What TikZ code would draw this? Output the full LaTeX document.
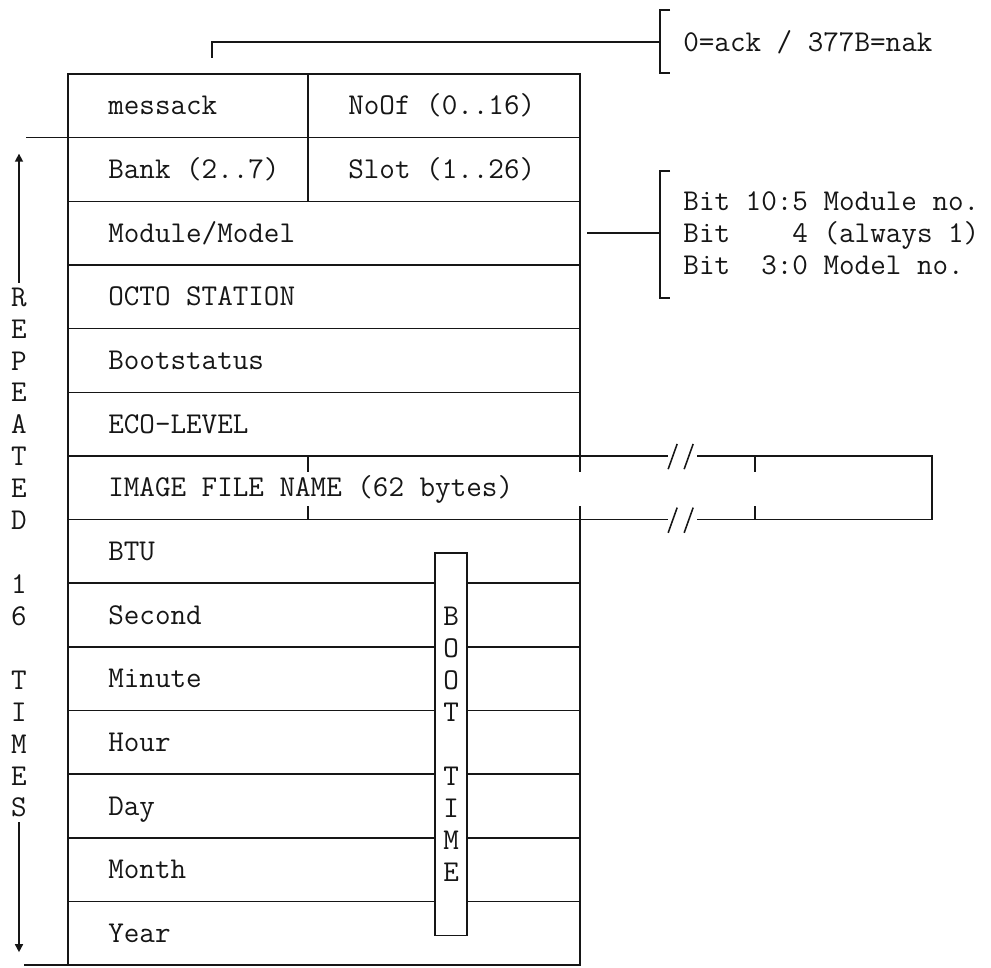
\documentclass[tikz,border=0pt]{standalone}
\usetikzlibrary{arrows.meta,positioning,calc}
\definecolor{ink}{HTML}{161616}
\newcommand{\twsize}{\ttfamily\fontsize{21.5}{22.7}\selectfont}
\tikzset{
  cell/.style={draw=ink,line width=1.1pt,anchor=north west,minimum width=#1,minimum height=1.591cm,
    inner sep=0pt,outer sep=0pt},
  tag/.style={anchor=west,xshift=1cm,inner sep=0pt,text height=13pt,text depth=0pt},
  note/.style={anchor=west,inner sep=0pt,align=left},
  lead/.style={draw=ink,line width=1.1pt},
  tip/.style={-{Triangle[length=0.2cm,width=0.2cm]}}
}

\begin{document}
\begin{tikzpicture}[x=0.025cm,y=-0.025cm,font=\twsize,text=ink]
  \useasboundingbox (0,0) rectangle (991,967);
  % header words
  \node[cell=6cm,label={[tag]west:messack}] (msg) at (68,74) {};
  \node[cell=6.8cm,label={[tag]west:NoOf (0..16)}] (nof) at (msg.north east) {};
  \node[cell=6cm,label={[tag]west:Bank (2..7)}] (bank) at (msg.south west) {};
  \node[cell=6.8cm,label={[tag]west:Slot (1..26)}] (slot) at (bank.north east) {};
  \node[cell=12.8cm,label={[tag]west:Module/Model}] (r1) at (bank.south west) {};
  \foreach \t [count=\i from 2,remember=\i as \j (initially 1)] in {OCTO STATION,Bootstatus,ECO-LEVEL}
    \node[cell=12.8cm,label={[tag]west:\t}] (r\i) at (r\j.south west) {};
  \node[cell=12.8cm,draw=none,label={[tag]west:IMAGE FILE NAME (62 bytes)}] (r5) at (r4.south west) {};
  \foreach \t [count=\i from 6,remember=\i as \j (initially 5)] in {BTU,Second,Minute,Hour,Day,Month,Year}
    \node[cell=12.8cm,label={[tag]west:\t}] (r\i) at (r\j.south west) {};
  % image file name runs on past the frame
  \draw[lead] (r5.north west) -- (r5.south west);
  \draw[lead] (r5.north west) -- ([xshift=2.2cm]r5.north east);
  \draw[lead] (r5.south west) -- ([xshift=2.2cm]r5.south east);
  \draw[lead] ([xshift=2.925cm]r5.north east) -| ([xshift=8.8cm]r5.south east) -- ([xshift=2.925cm]r5.south east);
  \foreach \a in {north east,south east}{
    \draw[lead] ([xshift=2.2cm,yshift=-0.33cm]r5.\a) -- ++(0.225cm,0.63cm);
    \draw[lead] ([xshift=2.6cm,yshift=-0.33cm]r5.\a) -- ++(0.225cm,0.63cm);
  }
  \foreach \dx in {-6.8cm,0cm,4.375cm}{
    \draw[lead] ([xshift=\dx]r5.north east) -- ++(0,-0.4cm);
    \draw[lead] ([xshift=\dx]r5.south east) -- ++(0,0.35cm);
  }
  % ack / nak note
  \node[note] (ack) at (683,42) {0=ack / 377B=nak};
  \coordinate (ak) at ([xshift=3.6cm,yshift=0.4cm]msg.north west);
  \draw[lead] (ak) |- ([xshift=-0.575cm]ack.west);
  \draw[lead] ([xshift=-0.325cm,yshift=0.8cm]ack.west) -| ([xshift=-0.575cm,yshift=-0.78cm]ack.west) -- ++(0.25cm,0);
  % module/model bits
  \node[note] (bits) at ([xshift=2.575cm]r1.east)
     {Bit 10:5 Module no.\\Bit~~~~4 (always 1)\\Bit~~3:0 Model no.};
  \draw[lead] ([xshift=0.175cm]r1.east) -- ([xshift=-0.575cm]bits.west);
  \draw[lead] ([xshift=-0.325cm,yshift=1.55cm]bits.west) -| ([xshift=-0.575cm,yshift=-1.625cm]bits.west) -- ++(0.25cm,0);
  % repeat span on the left
  \node[align=center] (rep) at (19,552.5)
     {R\\E\\P\\E\\A\\T\\E\\D\\\mbox{}\\1\\6\\\mbox{}\\T\\I\\M\\E\\S};
  \draw[lead] (bank.north west) -- ++(-1.05cm,0);
  \draw[lead] (r12.south west) -- ++(-1.1cm,0);
  \draw[lead,tip] (rep.north) -- ($(rep.north |- bank.north)+(0,-0.4cm)$);
  \draw[lead,tip] (rep.south) -- ($(rep.south |- r12.south)+(0,0.325cm)$);
  % boot time strip
  \node[draw=ink,line width=1.1pt,fill=white,anchor=north west,minimum width=0.8cm,minimum height=9.55cm,
        inner sep=0pt,outer sep=0pt,align=center] (bt) at ([xshift=9.175cm,yshift=-0.84cm]r6.north west)
     {B\\O\\O\\T\\\mbox{}\\T\\I\\M\\E};
\end{tikzpicture}
\end{document}
